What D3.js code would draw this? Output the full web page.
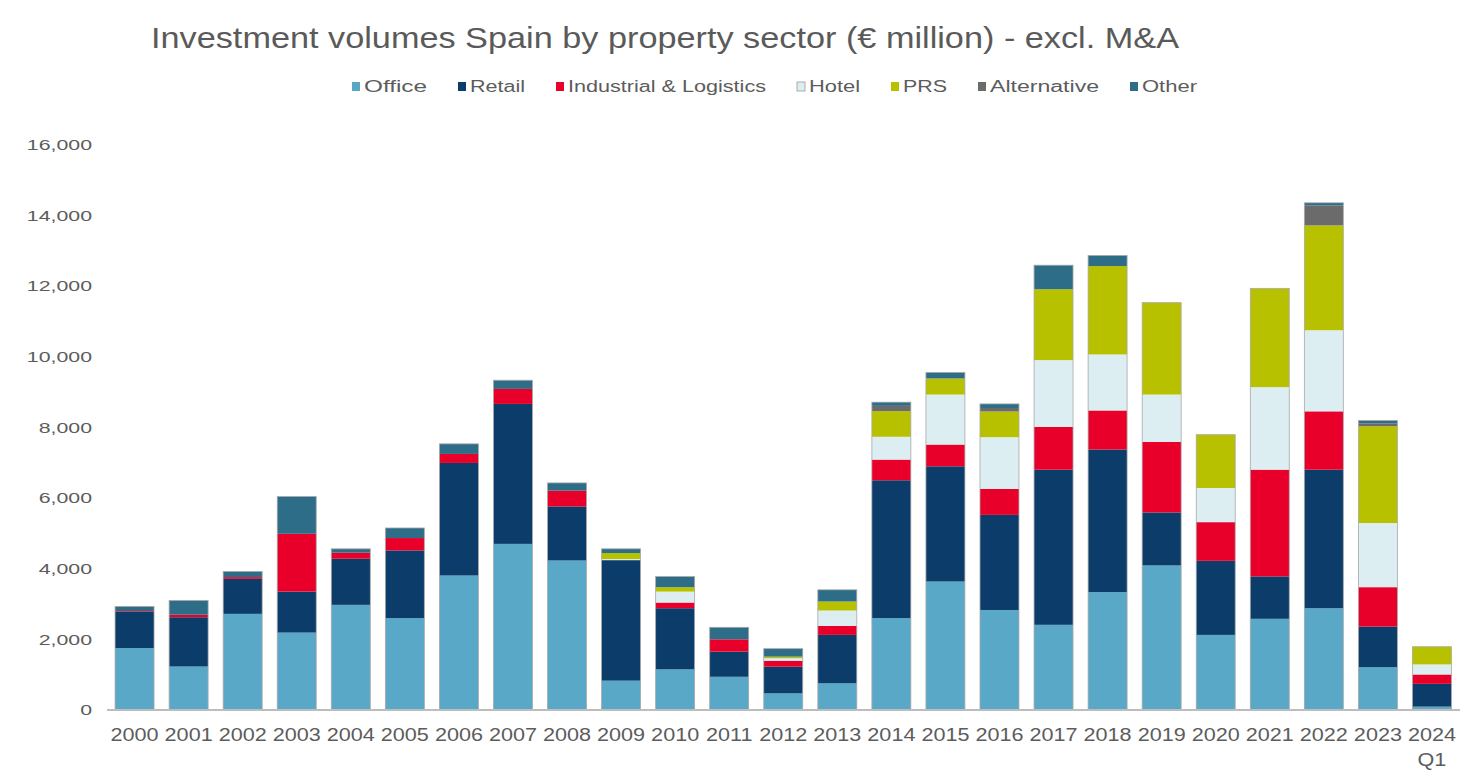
<!DOCTYPE html>
<html><head><meta charset="utf-8">
<script src="https://cdn.jsdelivr.net/npm/d3@7"></script>
<style>
body{margin:0;background:#fff}
svg{display:block}
text{font-family:"Liberation Sans",Arial,Helvetica,sans-serif}
</style>
</head><body>
<svg id="chart" width="1460" height="771"></svg>
<script>
// ---- data ----
const years = ["2000","2001","2002","2003","2004","2005","2006","2007","2008","2009","2010","2011","2012","2013","2014","2015","2016","2017","2018","2019","2020","2021","2022","2023","2024 Q1"];
const office      = [1750,1230,2720,2190,2975,2600,3805,4700,4230, 830,1150, 940, 470, 755,2600,3635,2830,2410,3335,4090,2125,2580,2880,1210,  95];
const retail      = [1030,1395, 990,1160,1305,1915,3185,3960,1530,3410,1730, 710, 755,1370,3900,3260,2690,4390,4035,1500,2095,1200,3920,1150, 645];
const industrial  = [  20,  70,  50,1635, 170, 350, 255, 425, 445,   0, 160, 350, 170, 255, 585, 615, 735,1210,1105,1995,1095,3020,1650,1115, 265];
const hotel       = [   0,   0,   0,   0,   0,   0,   0,   0,   0,  30, 310,   0,  70, 435, 645,1415,1465,1890,1585,1340, 965,2335,2295,1815, 285];
const prs         = [   0,   0,   0,   0,   0,   0,   0,   0,   0, 170, 125,   0,  45, 255, 725, 455, 725,2005,2500,2600,1510,2795,2965,2740, 500];
const alternative = [   0,   0,   0,   0,   0,   0,   0,   0,   0,   0,   0,   0,   0,   0, 150,   0, 100,   0,   0,   0,   0,   0, 565,  80,   0];
const other       = [ 130, 405, 160,1055, 110, 285, 285, 245, 220, 120, 300, 340, 225, 330, 105, 170, 115, 680, 300,   0,   0,   0,  75,  80,   0];
const seriesNames = ["Office","Retail","Industrial & Logistics","Hotel","PRS","Alternative","Other"];
const seriesValues = [office, retail, industrial, hotel, prs, alternative, other];
const yTicks = [0,2000,4000,6000,8000,10000,12000,14000,16000];
const titleText = "Investment volumes Spain by property sector (€ million) - excl. M&A";

// ---- styles / layout ----
const colors = ["#5aa8c8","#0b3c6a","#e8002b","#ddeef2","#b7c100","#6b6b6b","#2e6d87"];
const textColor = "#5c5c5c";
const legendTextWidths = [63,55,198,51,44,109,55];

const svg = d3.select("#chart");

function stretch(sel, k){
  sel.each(function(){
    const l = this.getComputedTextLength();
    d3.select(this).attr("textLength", l*k).attr("lengthAdjust","spacingAndGlyphs");
  });
}

// ---- scales ----
const x = d3.scaleBand().domain(years).range([107.5,1459]).paddingInner(0.279).paddingOuter(0.14);
const y = d3.scaleLinear().domain([0,16000]).range([710,144.5]);

const table = years.map((yr,i)=>{
  const row = {year:yr};
  seriesNames.forEach((s,j)=>row[s]=seriesValues[j][i]);
  return row;
});
const stacked = d3.stack().keys(seriesNames)(table);

// ---- bars ----
const layers = svg.append("g").selectAll("g").data(stacked).join("g")
  .attr("fill",(d,i)=>colors[i]);
layers.selectAll("rect").data(d=>d).join("rect")
  .attr("x",d=>x(d.data.year))
  .attr("width",x.bandwidth())
  .attr("y",d=>y(d[1]))
  .attr("height",d=>Math.max(0,y(d[0])-y(d[1])));

// bar outlines
svg.append("g").selectAll("rect").data(table).join("rect")
  .attr("x",d=>x(d.year))
  .attr("width",x.bandwidth())
  .attr("y",d=>y(d3.sum(seriesNames,s=>d[s])))
  .attr("height",d=>y(0)-y(d3.sum(seriesNames,s=>d[s])))
  .attr("fill","none").attr("stroke","#a8a8a8").attr("stroke-width",0.8);

// ---- axes ----
const yAxis = svg.append("g").attr("transform","translate(95,0)")
  .call(d3.axisLeft(y).tickValues(yTicks).tickSize(0).tickPadding(3).tickFormat(d3.format(",")));
yAxis.select(".domain").remove();
yAxis.selectAll("text").attr("fill",textColor).style("font-size","15px")
  .style("font-family",'"Liberation Sans",Arial,sans-serif').call(stretch,1.42);

const xAxis = svg.append("g").attr("transform","translate(0,710)")
  .call(d3.axisBottom(x).tickSize(0).tickPadding(0));
xAxis.select(".domain").attr("stroke","#bdbdbd").attr("stroke-width",2)
  .attr("d","M107,0H1460");
xAxis.selectAll("text").attr("fill",textColor).style("font-size","18px")
  .style("font-family",'"Liberation Sans",Arial,sans-serif')
  .attr("y",31).attr("dy",0)
  .each(function(d){
    const t = d3.select(this);
    const parts = d.split(" ");
    t.text(null);
    parts.forEach((p,i)=>{
      t.append("tspan").attr("x",0).attr("dy", i===0?0:"1.4em").text(p);
    });
  });
xAxis.selectAll("tspan").each(function(){
  const l = this.getComputedTextLength();
  d3.select(this).attr("textLength",l*1.2).attr("lengthAdjust","spacingAndGlyphs");
});

// ---- title ----
svg.append("text").attr("x",151).attr("y",48)
  .attr("fill","#5a5a5a").style("font-size","30px")
  .attr("textLength",1028).attr("lengthAdjust","spacingAndGlyphs")
  .text(titleText);

// ---- legend ----
const legend = svg.append("g");
let lx = 352;
seriesNames.forEach((name,i)=>{
  const g = legend.append("g");
  g.append("rect").attr("x",lx).attr("y",82).attr("width",8).attr("height",9)
    .attr("fill",colors[i]).attr("stroke", i===3 ? "#9a9a9a" : "none").attr("stroke-width",0.8);
  const l = legendTextWidths[i];
  g.append("text").attr("x",lx+12).attr("y",92)
    .attr("fill",textColor).style("font-size","16px")
    .attr("textLength",l).attr("lengthAdjust","spacingAndGlyphs").text(name);
  lx += 12 + l + 31;
});
</script>
</body></html>
